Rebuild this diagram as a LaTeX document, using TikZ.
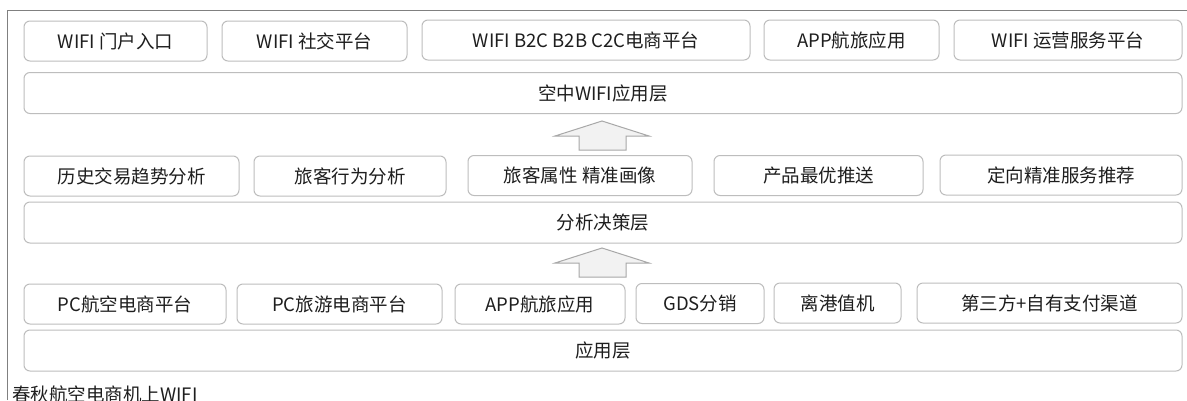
\documentclass[tikz,border=0pt]{standalone}
\usepackage{fontspec}
\setmainfont{Noto Sans CJK SC}
\begin{document}
\begin{tikzpicture}[x=1pt,y=-1pt,
  box/.style={draw=boxgray, line width=1pt, rounded corners=6pt, minimum height=40pt, inner sep=0pt, font=\fontsize{18.5}{21}\selectfont, text=txt},
  bar/.style={box, minimum width=1158pt, minimum height=41pt},
  uparrow/.style={draw=arrowline, fill=arrowfill, line width=1pt, line join=miter},
  frame/.style={draw=framegray, line width=1.6pt}]
\definecolor{boxgray}{HTML}{BDBDBD}
\definecolor{framegray}{HTML}{808080}
\definecolor{arrowline}{HTML}{A8A8A8}
\definecolor{arrowfill}{HTML}{F2F2F2}
\definecolor{txt}{HTML}{1E1E1E}
\useasboundingbox (0,0) rectangle (1187,400);
\fill[white] (0,0) rectangle (1187,400);
\draw[frame] (7.5,400) -- (7.5,10.5) -- (1187,10.5);
% row 1
\node[box, minimum width=183pt] (a1) at (115.5,41) {WIFI 门户入口};
\node[box, minimum width=185pt] (a2) at (314.5,41) {WIFI 社交平台};
\node[box, minimum width=328pt] (a3) at (586,40) {WIFI B2C B2B C2C电商平台};
\node[box, minimum width=175pt] (a4) at (851.5,40) {APP航旅应用};
\node[box, minimum width=228pt] (a5) at (1068,40) {WIFI 运营服务平台};
\node[bar] (l1) at (603,93) {空中WIFI应用层};
% arrow 1
\draw[uparrow] (602,121) -- (649,136) -- (626,136) -- (626,150) -- (579,150) -- (579,136) -- (555,136) -- cycle;
% row 2
\node[box, minimum width=215pt] (b1) at (131.5,176) {历史交易趋势分析};
\node[box, minimum width=192pt] (b2) at (350,176) {旅客行为分析};
\node[box, minimum width=224pt] (b3) at (580,175.5) {旅客属性 精准画像};
\node[box, minimum width=209pt] (b4) at (818.5,175.5) {产品最优推送};
\node[box, minimum width=242pt] (b5) at (1061,175) {定向精准服务推荐};
\node[bar] (l2) at (603,222.5) {分析决策层};
% arrow 2
\draw[uparrow] (602,248) -- (649,263) -- (626,263) -- (626,277) -- (579,277) -- (579,263) -- (555,263) -- cycle;
% row 3
\node[box, minimum width=202pt] (c1) at (125,304) {PC航空电商平台};
\node[box, minimum width=205pt] (c2) at (339.5,304) {PC旅游电商平台};
\node[box, minimum width=170pt] (c3) at (540,304) {APP航旅应用};
\node[box, minimum width=128pt] (c4) at (700,303.5) {GDS分销};
\node[box, minimum width=127pt] (c5) at (837.5,303) {离港值机};
\node[box, minimum width=265pt] (c6) at (1049.5,303) {第三方+自有支付渠道};
\node[bar] (l3) at (603,350.5) {应用层};
% caption
\node[anchor=west, inner sep=0pt, font=\fontsize{18.5}{21}\selectfont, text=txt] (cap) at (12,394) {春秋航空电商机上WIFI};
\end{tikzpicture}
\end{document}
